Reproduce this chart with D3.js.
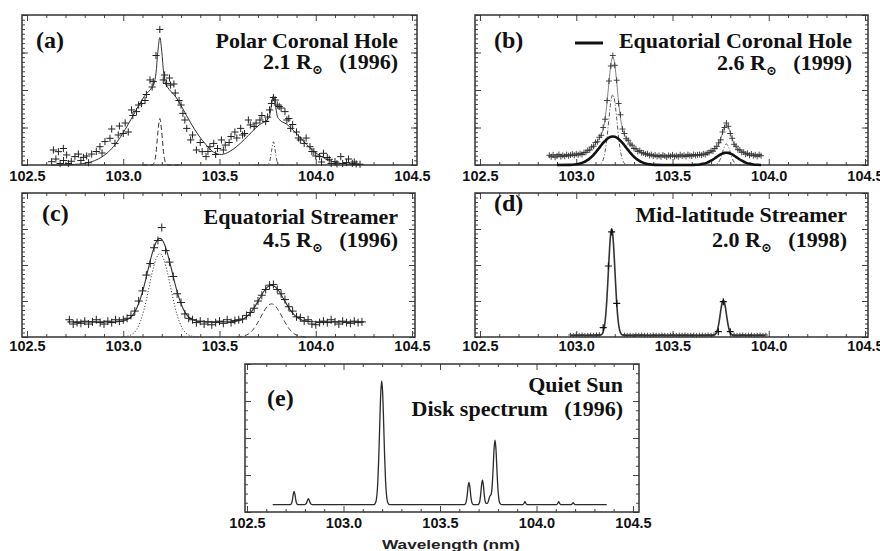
<!DOCTYPE html>
<html><head><meta charset="utf-8">
<script src="https://cdn.jsdelivr.net/npm/d3@7"></script>
<style>
body{margin:0;background:#fff}
svg{display:block}
.xax text{font-family:"Liberation Sans",Arial,sans-serif;font-weight:bold;font-size:14.5px;fill:#111}
.ttl{font-family:"Liberation Serif","Times New Roman",serif;font-weight:bold;font-size:22px;fill:#111}
.tag{font-family:"Liberation Serif","Times New Roman",serif;font-weight:bold;font-size:24px;fill:#111}
</style></head><body>
<svg id="chart" width="880" height="551"></svg>
<script>
// ---------------- DATA (wavelength nm, relative intensity) ----------------
const xTickValues = [102.5, 103.0, 103.5, 104.0, 104.5];
const xTickLabels = ["102.5", "103.0", "103.5", "104.0", "104.5"];
const yTickValues = [0, 25, 50, 75, 100];

// (a) Polar Coronal Hole
const aObs = [[102.628,2.2],[102.637,10],[102.65,4],[102.663,8.9],[102.672,1],[102.689,11],[102.69,3],[102.706,6.7],[102.715,1],[102.73,2.5],[102.749,5.6],[102.767,7.3],[102.78,3],[102.793,5.1],[102.81,6],[102.82,1.5],[102.836,7.3],[102.86,9],[102.879,12.2],[102.89,8],[102.905,15.6],[102.931,17.8],[102.94,24],[102.957,14.4],[102.974,20],[102.98,26],[103.0,21],[103.01,28],[103.026,22],[103.043,36.7],[103.05,33],[103.069,35.6],[103.08,40],[103.095,41],[103.113,43],[103.12,47],[103.139,56.7],[103.15,52],[103.156,55.6],[103.17,73],[103.19,90.4],[103.208,56.7],[103.215,60],[103.225,54.4],[103.24,58],[103.246,53.3],[103.263,54],[103.27,48],[103.29,43],[103.30,40],[103.31,34.4],[103.32,30],[103.33,24.4],[103.35,16.7],[103.36,20],[103.38,10],[103.40,15],[103.41,8.9],[103.43,5.6],[103.44,9],[103.45,12.2],[103.47,14.4],[103.48,7],[103.49,11],[103.51,16.7],[103.52,10],[103.53,13.3],[103.55,15],[103.56,19],[103.58,22],[103.59,18],[103.61,24.4],[103.62,20],[103.63,21],[103.65,30],[103.66,26.7],[103.68,25.6],[103.69,28],[103.71,30],[103.72,33],[103.74,29],[103.75,32],[103.76,36.7],[103.77,41],[103.78,45],[103.79,43.3],[103.80,40],[103.81,39],[103.82,38],[103.84,35.6],[103.85,30],[103.86,31],[103.87,24.4],[103.88,27],[103.90,22],[103.91,18],[103.92,16.7],[103.94,14.4],[103.95,18],[103.97,12.2],[103.98,9],[103.99,8.9],[104.00,6],[104.02,5.6],[104.03,2],[104.04,7.8],[104.06,5],[104.07,3.8],[104.08,1],[104.10,2.2],[104.11,0.8],[104.13,5.6],[104.14,1],[104.16,1.6],[104.17,4],[104.19,1.1],[104.20,2],[104.21,0.7],[104.23,0.5]];
const aFit = [[102.63,0],[102.67,0],[102.71,0.15],[102.75,0.4],[102.79,0.9],[102.83,2.0],[102.87,4.0],[102.91,7.3],[102.95,12.4],[102.99,19.5],[103.03,28.1],[103.07,37.4],[103.11,45.9],[103.15,51.9],[103.16,54.2],[103.17,61.2],[103.18,75.8],[103.19,85],[103.20,75.8],[103.21,61.2],[103.22,54.2],[103.23,51.9],[103.27,45.9],[103.31,37.4],[103.35,28.1],[103.39,20.0],[103.43,13.5],[103.47,8.5],[103.51,7.0],[103.55,8.8],[103.59,12.4],[103.63,17.1],[103.67,22.4],[103.71,27.1],[103.75,30.4],[103.76,32.7],[103.77,40.0],[103.78,46],[103.79,40.0],[103.80,32.7],[103.81,30.4],[103.85,27.1],[103.89,22.2],[103.93,16.7],[103.97,11.5],[104.01,7.2],[104.05,4.2],[104.09,2.2],[104.13,1.1],[104.17,0.5],[104.23,0.1]];
const aNarrow1 = [[103.10,0],[103.14,0],[103.15,0.1],[103.16,1.4],[103.17,7.7],[103.18,21.9],[103.19,31],[103.20,21.9],[103.21,7.7],[103.22,1.4],[103.23,0.1],[103.24,0],[103.30,0]];
const aNarrow2 = [[103.68,0],[103.74,0],[103.75,0.2],[103.76,2.0],[103.77,9.1],[103.78,15.5],[103.79,9.1],[103.80,2.0],[103.81,0.2],[103.82,0],[103.88,0]];

// (b) Equatorial Coronal Hole
const bObs = [[102.86,6.5],[102.87,5.5],[102.88,6.8],[102.89,5.2],[102.90,6.0],[102.91,7.0],[102.92,5.6],[102.93,6.4],[102.94,5.8],[102.95,6.9],[102.96,6.2],[102.97,6.6],[102.98,7.2],[102.99,6.5],[103.00,7.4],[103.01,6.8],[103.02,7.6],[103.03,7.0],[103.04,8.3],[103.05,8.4],[103.06,9.8],[103.07,10.0],[103.08,12.0],[103.09,12.5],[103.10,15.0],[103.11,15.5],[103.12,18.5],[103.13,19.8],[103.14,25.0],[103.15,30.5],[103.16,43.0],[103.17,56.0],[103.18,66.0],[103.19,73.0],[103.20,66.5],[103.21,56.5],[103.22,41.0],[103.23,33.5],[103.24,24.0],[103.25,21.0],[103.26,17.5],[103.27,16.5],[103.28,14.0],[103.29,13.2],[103.30,11.0],[103.31,10.8],[103.32,9.0],[103.33,9.6],[103.34,8.2],[103.35,8.0],[103.36,7.2],[103.37,7.5],[103.38,6.4],[103.39,6.9],[103.40,6.0],[103.41,6.6],[103.42,5.7],[103.43,6.3],[103.44,5.4],[103.45,6.6],[103.46,6.0],[103.47,5.3],[103.48,6.4],[103.49,5.8],[103.50,6.7],[103.51,5.6],[103.52,6.2],[103.53,5.5],[103.54,6.8],[103.55,6.0],[103.56,6.5],[103.57,5.7],[103.58,6.9],[103.59,6.3],[103.60,6.0],[103.61,7.0],[103.62,6.4],[103.63,6.8],[103.64,7.0],[103.65,6.6],[103.66,7.4],[103.67,7.0],[103.68,8.0],[103.69,8.3],[103.70,9.5],[103.71,9.2],[103.72,11.0],[103.73,12.4],[103.74,14.8],[103.75,16.8],[103.76,22.0],[103.77,25.0],[103.78,28.0],[103.79,25.8],[103.80,21.0],[103.81,17.8],[103.82,13.8],[103.83,12.5],[103.84,10.2],[103.85,10.0],[103.86,8.5],[103.87,8.6],[103.88,7.2],[103.89,7.8],[103.90,6.5],[103.91,7.4],[103.92,6.2],[103.93,6.8],[103.94,5.8],[103.95,6.9],[103.96,6.2]];
const bFit = [[102.86,6],[102.96,6.0],[102.97,6.1],[102.99,6.3],[103.01,6.7],[103.03,7.4],[103.05,8.6],[103.07,10.4],[103.09,12.8],[103.10,14.3],[103.11,15.95],[103.12,17.8],[103.13,20.3],[103.14,24.3],[103.15,31.1],[103.16,41.8],[103.17,55.3],[103.18,67.2],[103.19,72],[103.20,67.2],[103.21,55.3],[103.22,41.8],[103.23,31.1],[103.24,24.3],[103.25,20.3],[103.26,17.8],[103.27,15.95],[103.28,14.3],[103.29,12.8],[103.31,10.4],[103.33,8.6],[103.35,7.4],[103.37,6.7],[103.39,6.3],[103.41,6.1],[103.45,6.0],[103.60,6.0],[103.62,6.1],[103.64,6.3],[103.66,6.76],[103.68,7.6],[103.69,8.15],[103.70,8.85],[103.71,9.65],[103.72,10.65],[103.73,12.0],[103.74,14.1],[103.75,17.3],[103.76,21.6],[103.77,25.6],[103.78,27.2],[103.79,25.6],[103.80,21.6],[103.81,17.3],[103.82,14.1],[103.83,12.0],[103.84,10.65],[103.85,9.65],[103.86,8.85],[103.87,8.15],[103.88,7.6],[103.90,6.76],[103.92,6.3],[103.94,6.1],[103.96,6.0]];
const bBroad = [[102.90,0],[102.97,0.1],[102.99,0.3],[103.01,0.7],[103.03,1.4],[103.04,1.9],[103.05,2.6],[103.06,3.4],[103.07,4.4],[103.08,5.5],[103.09,6.8],[103.10,8.3],[103.11,9.9],[103.12,11.5],[103.13,13.2],[103.14,14.7],[103.15,16.1],[103.16,17.3],[103.17,18.2],[103.18,18.8],[103.19,19],[103.20,18.8],[103.21,18.2],[103.22,17.3],[103.23,16.1],[103.24,14.7],[103.25,13.2],[103.26,11.5],[103.27,9.9],[103.28,8.3],[103.29,6.8],[103.30,5.5],[103.31,4.4],[103.32,3.4],[103.33,2.6],[103.34,1.9],[103.35,1.4],[103.37,0.7],[103.39,0.3],[103.41,0.1],[103.45,0],[103.60,0],[103.62,0.12],[103.64,0.32],[103.66,0.76],[103.68,1.6],[103.69,2.15],[103.70,2.85],[103.71,3.65],[103.72,4.5],[103.73,5.4],[103.74,6.3],[103.75,7.07],[103.76,7.7],[103.77,8.07],[103.78,8.2],[103.79,8.07],[103.80,7.7],[103.81,7.07],[103.82,6.3],[103.83,5.4],[103.84,4.5],[103.85,3.65],[103.86,2.85],[103.87,2.15],[103.88,1.6],[103.90,0.76],[103.92,0.32],[103.94,0.12],[103.96,0]];
const bNarrow1 = [[103.10,0],[103.12,0.3],[103.13,1.1],[103.14,3.6],[103.15,9.0],[103.16,18.5],[103.17,31.1],[103.18,42.4],[103.19,47],[103.20,42.4],[103.21,31.1],[103.22,18.5],[103.23,9.0],[103.24,3.6],[103.25,1.1],[103.26,0.3],[103.28,0]];
const bNarrow2 = [[103.70,0],[103.72,0.15],[103.73,0.6],[103.74,1.9],[103.75,4.5],[103.76,8.5],[103.77,12.4],[103.78,14],[103.79,12.4],[103.80,8.5],[103.81,4.5],[103.82,1.9],[103.83,0.6],[103.84,0.15],[103.86,0]];

// (c) Equatorial Streamer
const cObs = [[102.72,12],[102.74,9],[102.76,10],[102.78,9.5],[102.80,11],[102.82,9],[102.84,10.5],[102.86,12],[102.88,10],[102.90,9],[102.92,11],[102.94,10],[102.96,12],[102.98,11],[103.00,12],[103.02,13],[103.04,15],[103.06,18],[103.08,25],[103.10,32],[103.12,43],[103.14,51],[103.16,62],[103.18,67],[103.20,76],[103.22,60],[103.24,52],[103.26,42],[103.28,30],[103.30,24],[103.32,16],[103.34,13],[103.36,12],[103.38,10],[103.40,11],[103.42,9],[103.44,10.5],[103.46,8.5],[103.48,10],[103.50,11],[103.52,9.5],[103.54,12],[103.56,10],[103.58,11.5],[103.60,12],[103.62,12.5],[103.64,15],[103.66,17],[103.68,20],[103.70,25],[103.72,29],[103.74,33],[103.76,36],[103.78,36.5],[103.80,33],[103.82,30],[103.84,26],[103.86,21],[103.88,18],[103.90,14],[103.92,13.5],[103.94,11],[103.96,12],[103.98,9],[104.00,8.5],[104.02,10],[104.04,11],[104.06,10],[104.08,12],[104.10,10.5],[104.12,9],[104.14,11],[104.16,10],[104.18,9.5],[104.20,11],[104.22,10],[104.24,10.5]];
const cFit = [[102.71,10.5],[102.95,10.5],[102.97,10.6],[102.99,10.9],[103.01,11.5],[103.03,12.8],[103.05,15.4],[103.07,20.0],[103.09,27.0],[103.11,36.4],[103.13,47.4],[103.15,57.9],[103.17,65.7],[103.19,68.5],[103.21,65.7],[103.23,57.9],[103.25,47.4],[103.27,36.4],[103.29,27.0],[103.31,20.0],[103.33,15.4],[103.35,12.8],[103.37,11.5],[103.39,10.9],[103.41,10.6],[103.43,10.5],[103.53,10.5],[103.55,10.6],[103.57,10.7],[103.59,11.05],[103.61,11.7],[103.63,13.0],[103.65,15.15],[103.67,18.3],[103.69,22.5],[103.71,27.1],[103.73,31.6],[103.75,34.8],[103.77,36.0],[103.79,34.8],[103.81,31.6],[103.83,27.1],[103.85,22.5],[103.87,18.3],[103.89,15.15],[103.91,13.0],[103.93,11.7],[103.95,11.05],[103.97,10.7],[103.99,10.6],[104.01,10.5],[104.25,10.5]];
const cComp1 = [[102.99,0],[103.01,0.3],[103.03,0.85],[103.05,2.25],[103.07,5.3],[103.09,11.1],[103.11,20.1],[103.13,32.0],[103.15,44.5],[103.17,54.1],[103.19,58],[103.21,54.1],[103.23,44.5],[103.25,32.0],[103.27,20.1],[103.29,11.1],[103.31,5.3],[103.33,2.25],[103.35,0.85],[103.37,0.3],[103.39,0]];
const cComp2 = [[103.59,0],[103.61,0.35],[103.63,0.9],[103.65,2.1],[103.67,4.4],[103.69,8.0],[103.71,12.7],[103.73,17.7],[103.75,21.5],[103.77,23],[103.79,21.5],[103.81,17.7],[103.83,12.7],[103.85,8.0],[103.87,4.4],[103.89,2.1],[103.91,0.9],[103.93,0.35],[103.95,0]];

// (d) Mid-latitude Streamer
const dObsPeaks = [[103.14,6.5],[103.167,49.3],[103.184,73],[103.21,23.4],[103.738,3.7],[103.764,24.5],[103.80,3.7]];
const dObsBase = [[102.97,1.4],[102.985,1.2],[103.0,1.5],[103.015,1.3],[103.03,1.6],[103.045,1.2],[103.06,1.4],[103.075,1.5],[103.09,1.3],[103.105,1.6],[103.12,1.8],[103.25,1.5],[103.265,1.3],[103.28,1.4],[103.295,1.2],[103.31,1.5],[103.325,1.4],[103.34,1.6],[103.355,1.3],[103.37,1.4],[103.385,1.2],[103.40,1.5],[103.415,1.4],[103.43,1.3],[103.445,1.6],[103.46,1.4],[103.475,1.2],[103.49,1.5],[103.505,1.4],[103.52,1.3],[103.535,1.5],[103.55,1.4],[103.565,1.6],[103.58,1.3],[103.595,1.4],[103.61,1.5],[103.625,1.2],[103.64,1.4],[103.655,1.5],[103.67,1.3],[103.685,1.6],[103.70,1.4],[103.715,1.7],[103.82,1.5],[103.835,1.3],[103.85,1.4],[103.865,1.6],[103.88,1.3],[103.895,1.4],[103.91,1.5],[103.925,1.2],[103.94,1.4],[103.955,1.5],[103.97,1.3],[103.985,1.4]];
const dFit = [[102.97,1],[103.114,1],[103.124,1.15],[103.134,2.0],[103.139,3.2],[103.144,5.6],[103.149,9.9],[103.154,16.6],[103.159,26.1],[103.164,38.0],[103.169,51.1],[103.174,63.2],[103.179,71.9],[103.184,75],[103.189,71.9],[103.194,63.2],[103.199,51.1],[103.204,38.0],[103.209,26.1],[103.214,16.6],[103.219,9.9],[103.224,5.6],[103.229,3.2],[103.234,2.0],[103.244,1.15],[103.254,1],[103.704,1],[103.714,1.2],[103.724,2.1],[103.729,3.2],[103.734,5.2],[103.739,8.2],[103.744,12.2],[103.749,16.8],[103.754,21.2],[103.759,24.3],[103.764,25.5],[103.769,24.3],[103.774,21.2],[103.779,16.8],[103.784,12.2],[103.789,8.2],[103.794,5.2],[103.799,3.2],[103.804,2.1],[103.814,1.2],[103.824,1],[103.98,1]];

// (e) Quiet Sun disk spectrum
const eSpec = [[102.633,5],[102.724,5],[102.729,5.4],[102.734,7.2],[102.739,11.4],[102.744,14],[102.749,11.4],[102.754,7.2],[102.759,5.4],[102.764,5],[102.798,5],[102.803,5.2],[102.808,6.0],[102.813,7.8],[102.818,9],[102.823,7.8],[102.828,6.0],[102.833,5.2],[102.838,5],[103.158,5],[103.163,5.5],[103.168,7],[103.173,11.3],[103.178,21],[103.183,38],[103.188,60.3],[103.193,80.3],[103.198,88.5],[103.203,80.3],[103.208,60.3],[103.213,38],[103.218,21],[103.223,11.3],[103.228,7],[103.233,5.5],[103.238,5],[103.625,5],[103.63,5.25],[103.635,6.5],[103.64,10.4],[103.645,16.6],[103.65,20],[103.655,16.6],[103.66,10.4],[103.665,6.5],[103.67,5.25],[103.675,5],[103.695,5],[103.70,5.3],[103.705,6.6],[103.71,10.9],[103.715,17.8],[103.72,21.5],[103.725,17.8],[103.73,10.9],[103.735,6.8],[103.74,5.8],[103.745,5.8],[103.75,7],[103.755,9.5],[103.76,11],[103.765,12],[103.77,17],[103.775,28.5],[103.78,42.4],[103.785,48.6],[103.79,42.4],[103.795,28.5],[103.80,15.9],[103.805,8.7],[103.81,5.9],[103.815,5.25],[103.82,5],[103.93,5],[103.935,5.8],[103.94,7],[103.945,5.8],[103.95,5],[104.105,5],[104.11,5.8],[104.115,7],[104.12,5.8],[104.125,5],[104.18,5],[104.185,5.6],[104.19,6.3],[104.195,5.6],[104.20,5],[104.364,5]];

// ---------------- LAYOUT ----------------
const svg = d3.select("#chart");
const ink = "#222";

function panel(cfg) {
  const [x0, y0, x1, y1] = cfg.box;
  const g = svg.append("g");
  const x = d3.scaleLinear().domain([102.5, 104.5]).range(cfg.xr);
  const y = d3.scaleLinear().domain([0, 100]).range([y1, y0]);
  const xMinor = d3.range(102.6, 104.45, 0.1).filter(v => Math.abs(v * 2 - Math.round(v * 2)) > 1e-6);
  const yMinor = d3.range(0, 100.001, 25 / cfg.yMinorN);

  const ax = g.append("g").attr("class", "axes").attr("stroke-width", 1);
  const styleAxis = sel => { sel.select(".domain").remove(); sel.selectAll("line").attr("stroke", "#444"); };
  ax.append("g").attr("class", "xax").attr("transform", `translate(0,${y1})`)
    .call(d3.axisBottom(x).tickValues(xTickValues).tickFormat((d, i) => xTickLabels[i]).tickSizeInner(-6).tickSizeOuter(0).tickPadding(cfg.pad))
    .call(styleAxis).selectAll("text").attr("fill", "#111");
  ax.append("g").attr("transform", `translate(0,${y1})`)
    .call(d3.axisBottom(x).tickValues(xMinor).tickFormat("").tickSizeInner(-3).tickSizeOuter(0)).call(styleAxis);
  ax.append("g").attr("transform", `translate(0,${y0})`)
    .call(d3.axisTop(x).tickValues(xTickValues).tickFormat("").tickSizeInner(-6).tickSizeOuter(0)).call(styleAxis);
  ax.append("g").attr("transform", `translate(0,${y0})`)
    .call(d3.axisTop(x).tickValues(xMinor).tickFormat("").tickSizeInner(-3).tickSizeOuter(0)).call(styleAxis);
  [[d3.axisLeft, x0], [d3.axisRight, x1]].forEach(([fn, px]) => {
    ax.append("g").attr("transform", `translate(${px},0)`)
      .call(fn(y).tickValues(yTickValues).tickFormat("").tickSizeInner(-6).tickSizeOuter(0)).call(styleAxis);
    ax.append("g").attr("transform", `translate(${px},0)`)
      .call(fn(y).tickValues(yMinor).tickFormat("").tickSizeInner(-3).tickSizeOuter(0)).call(styleAxis);
  });
  g.append("rect").attr("x", x0).attr("y", y0).attr("width", x1 - x0).attr("height", y1 - y0)
    .attr("fill", "none").attr("stroke", "#333").attr("stroke-width", 1.5);

  const line = d3.line().x(d => x(d[0])).y(d => y(d[1])).curve(d3.curveMonotoneX);
  (cfg.lines || []).forEach(L => {
    g.append("path").datum(L.data).attr("d", line).attr("fill", "none")
      .attr("stroke", L.color || "#333").attr("stroke-width", L.w || 1)
      .attr("stroke-dasharray", L.dash || null).attr("stroke-linejoin", "round");
  });
  (cfg.crosses || []).forEach(C => {
    const s = C.size;
    g.append("g").selectAll("path").data(C.data).join("path")
      .attr("d", `M${-s},0H${s}M0,${-s}V${s}`)
      .attr("transform", d => `translate(${x(d[0])},${y(d[1])})`)
      .attr("stroke", C.color || ink).attr("stroke-width", C.w || 1).attr("fill", "none");
  });

  g.append("text").attr("class", "tag").attr("x", cfg.tag[0]).attr("y", cfg.tag[1]).text(cfg.tag[2]);
  cfg.titles.forEach(t => {
    const tx = g.append("text").attr("class", "ttl").attr("x", t.x).attr("y", t.y).attr("text-anchor", "end");
    if (t.sub) {
      tx.append("tspan").text(t.pre);
      tx.append("tspan").attr("font-size", "13px").attr("dy", 5)
        .attr("font-family", "'DejaVu Serif',serif").text("\u2299");
      tx.append("tspan").attr("dy", -5).text(t.post);
    } else tx.text(t.text);
  });
  return {g, x, y};
}

panel({
  box: [22, 15, 417, 165], xr: [27, 412], pad: 6, yMinorN: 8,
  lines: [
    {data: aFit, color: "#333", w: 1},
    {data: aNarrow1, color: "#333", w: 1, dash: "5,3"},
    {data: aNarrow2, color: "#555", w: 1, dash: "4,2,1,2"}
  ],
  crosses: [{data: aObs, size: 3.6, color: "#222"}],
  tag: [36, 48, "(a)"],
  titles: [
    {x: 398, y: 48, text: "Polar Coronal Hole"},
    {x: 398, y: 69, sub: true, pre: "2.1 R", post: "\u00a0\u00a0\u00a0(1996)"}
  ]
});

const pb = panel({
  box: [475, 15, 868, 165], xr: [480, 865], pad: 6, yMinorN: 8,
  lines: [
    {data: bFit, color: "#777", w: 0.9},
    {data: bNarrow1, color: "#555", w: 1, dash: "4,2,1,2"},
    {data: bNarrow2, color: "#555", w: 1, dash: "4,2,1,2"},
    {data: bBroad, color: "#111", w: 2.6}
  ],
  crosses: [{data: bObs, size: 3, color: "#333", w: 0.9}],
  tag: [494, 48, "(b)"],
  titles: [
    {x: 852, y: 48, text: "Equatorial Coronal Hole"},
    {x: 852, y: 70, sub: true, pre: "2.6 R", post: "\u00a0\u00a0\u00a0(1999)"}
  ]
});
pb.g.append("line").attr("x1", 575).attr("x2", 603).attr("y1", 43).attr("y2", 43)
  .attr("stroke", "#111").attr("stroke-width", 3);

panel({
  box: [22, 193, 415, 337], xr: [27, 412], pad: 4, yMinorN: 8,
  lines: [
    {data: cFit, color: "#333", w: 1.1},
    {data: cComp1, color: "#444", w: 1, dash: "1.2,1.8"},
    {data: cComp2, color: "#444", w: 1, dash: "5,3"}
  ],
  crosses: [{data: cObs, size: 4, color: "#222"}],
  tag: [42, 221, "(c)"],
  titles: [
    {x: 398, y: 224, text: "Equatorial Streamer"},
    {x: 398, y: 247, sub: true, pre: "4.5 R", post: "\u00a0\u00a0\u00a0(1996)"}
  ]
});

panel({
  box: [475, 193, 868, 337], xr: [480, 865], pad: 4, yMinorN: 8,
  lines: [
    {data: dFit, color: "#333", w: 1.6}
  ],
  crosses: [
    {data: dObsBase, size: 2.2, color: "#333", w: 0.9},
    {data: dObsPeaks, size: 3.5, color: "#111", w: 1.2}
  ],
  tag: [494, 211, "(d)"],
  titles: [
    {x: 847, y: 222, text: "Mid-latitude Streamer"},
    {x: 847, y: 247, sub: true, pre: "2.0 R", post: "\u00a0\u00a0\u00a0(1998)"}
  ]
});

panel({
  box: [245, 364, 639, 512], xr: [247, 633], pad: 6, yMinorN: 4,
  lines: [
    {data: eSpec, color: "#2a2a2a", w: 1.3}
  ],
  crosses: [],
  tag: [267, 406, "(e)"],
  titles: [
    {x: 623, y: 392, text: "Quiet Sun"},
    {x: 623, y: 416, text: "Disk spectrum\u00a0\u00a0\u00a0(1996)"}
  ]
});

svg.append("text").attr("x", 451).attr("y", 549).attr("text-anchor", "middle")
  .attr("font-family", "'Liberation Sans',Arial,sans-serif").attr("font-weight", "bold")
  .attr("font-size", "13px").attr("fill", "#222")
  .attr("textLength", 138).attr("lengthAdjust", "spacingAndGlyphs")
  .text("Wavelength (nm)");
</script>
</body></html>
